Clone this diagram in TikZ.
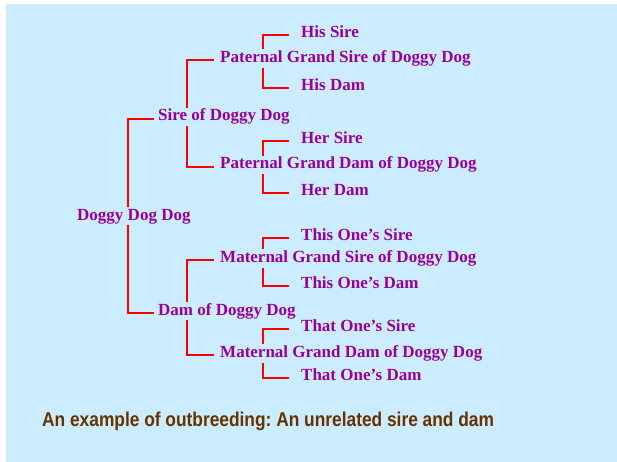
\documentclass[tikz,border=0pt]{standalone}
\usepackage{fontspec}
\setmainfont{Liberation Serif}
\newfontfamily\capfont{Liberation Sans}
\frenchspacing
\definecolor{bgblue}{RGB}{204,236,255}
\definecolor{pedpurple}{RGB}{153,0,153}
\definecolor{capbrown}{RGB}{102,51,0}
\pgfdeclarelayer{back}
\pgfdeclarelayer{mid}
\pgfsetlayers{back,mid,main}
\tikzset{
  pedlabel/.style={anchor=base west, inner xsep=0pt, inner ysep=1.5pt,
    fill=bgblue, text=pedpurple, font=\fontsize{17}{20}\selectfont\bfseries},
  caplabel/.style={anchor=base west, inner sep=0pt, text=capbrown, xscale=0.867,
    font=\capfont\fontsize{20}{24}\selectfont\bfseries},
  link/.style={draw=red, line width=2pt},
}
\begin{document}
\begin{tikzpicture}[x=1pt,y=-1pt]
\useasboundingbox (0,0) rectangle (617,462);
\begin{pgfonlayer}{back}
\fill[bgblue] (6,4) rectangle (617,462);
\end{pgfonlayer}

\node[pedlabel] (root) at (77,220) {Doggy Dog Dog};
\node[pedlabel] (sire) at (158,121) {Sire of Doggy Dog};
\node[pedlabel] (dam)  at (158,315) {Dam of Doggy Dog};
\node[pedlabel] (pgs) at (220,62.5) {Paternal Grand Sire of Doggy Dog};
\node[pedlabel] (pgd) at (220,169) {Paternal Grand Dam of Doggy Dog};
\node[pedlabel] (mgs) at (220,262.3) {Maternal Grand Sire of Doggy Dog};
\node[pedlabel] (mgd) at (220,357.7) {Maternal Grand Dam of Doggy Dog};
\node[pedlabel] (hs)  at (301,37.3) {His Sire};
\node[pedlabel] (hd)  at (301,90.7) {His Dam};
\node[pedlabel] (hrs) at (301,143.3) {Her Sire};
\node[pedlabel] (hrd) at (301,195) {Her Dam};
\node[pedlabel] (tos) at (301,240) {This One’s Sire};
\node[pedlabel] (tod) at (301,288.3) {This One’s Dam};
\node[pedlabel] (tts) at (301,331.7) {That One’s Sire};
\node[pedlabel] (ttd) at (301,380) {That One’s Dam};
\node[caplabel] (cap) at (42,426.7) {An example of outbreeding: An unrelated sire and dam};

\begin{pgfonlayer}{mid}
\draw[link] ([xshift=-4pt]sire.mid west) -| ([xshift=51pt]root.west) |- ([xshift=-4pt]dam.mid west);
\draw[link] ([xshift=-6.5pt]pgs.mid west) -| ([xshift=29pt]sire.west) |- ([xshift=-6.5pt]pgd.mid west);
\draw[link] ([xshift=-6.5pt]mgs.mid west) -| ([xshift=29pt]dam.west) |- ([xshift=-6.5pt]mgd.mid west);
\draw[link] ([xshift=-12pt]hs.mid west) -| ([xshift=43pt]pgs.west) |- ([xshift=-12pt]hd.mid west);
\draw[link] ([xshift=-12pt]hrs.mid west) -| ([xshift=43pt]pgd.west) |- ([xshift=-12pt]hrd.mid west);
\draw[link] ([xshift=-12pt]tos.mid west) -| ([xshift=43pt]mgs.west) |- ([xshift=-12pt]tod.mid west);
\draw[link] ([xshift=-12pt]tts.mid west) -| ([xshift=43pt]mgd.west) |- ([xshift=-12pt]ttd.mid west);
\end{pgfonlayer}
\end{tikzpicture}
\end{document}
